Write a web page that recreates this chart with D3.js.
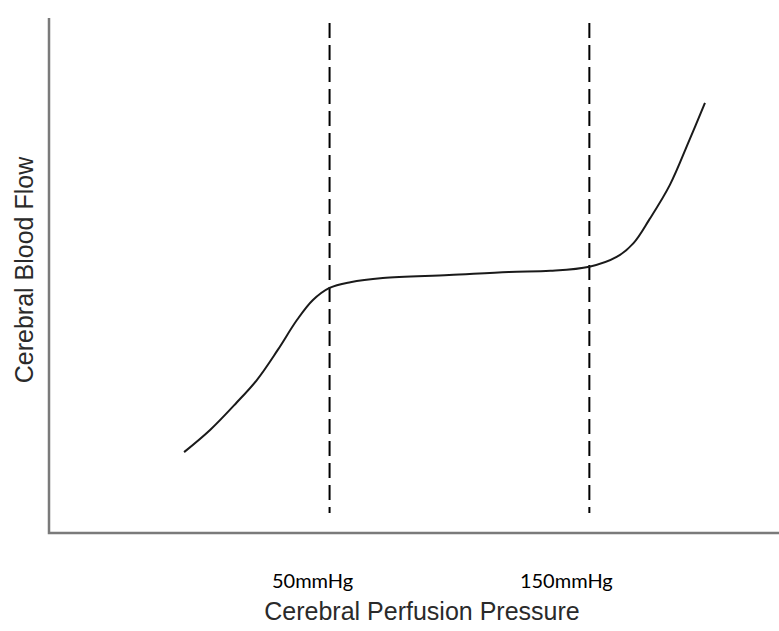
<!DOCTYPE html>
<html>
<head>
<meta charset="utf-8">
<script src="https://cdn.jsdelivr.net/npm/d3@7"></script>
<style>
  body { margin: 0; background: #fff; }
  svg { display: block; }
</style>
</head>
<body>
<svg width="779" height="631"></svg>
<script>
// autoregulation curve
const pressure = [-6, 4, 14, 22, 30, 37.5, 43.5, 50, 58, 70.5, 96, 119, 135, 150, 160.5, 167, 173, 181, 188.5, 194.5];
const flow = [15.7, 20, 25.2, 29.7, 35.5, 41.4, 45.2, 47.6, 48.7, 49.5, 50.1, 50.7, 50.9, 51.7, 53.6, 56.3, 60.8, 67.6, 76.3, 83.5];

// limits of autoregulation
const limits = [50, 150];
const limitLabels = ["50mmHg", "150mmHg"];

const svg = d3.select("svg"),
    plotLeft = 49,
    plotRight = 779,
    plotTop = 18,
    plotBottom = 533;

const x = d3.scaleLinear().domain([-58, 223]).range([plotLeft, plotRight]);
const y = d3.scaleLinear().domain([0, 100]).range([plotBottom, plotTop]);

// axes, plain lines without ticks
svg.append("path")
    .attr("d", `M${plotLeft},${plotTop}V${plotBottom}H${plotRight}`)
    .attr("fill", "none")
    .attr("stroke", "#7a7a7a")
    .attr("stroke-width", 2.5);

// dashed markers
svg.append("g")
    .selectAll("line")
    .data(limits)
    .join("line")
    .attr("x1", d => x(d))
    .attr("x2", d => x(d))
    .attr("y1", 23)
    .attr("y2", 513)
    .attr("stroke", "#000")
    .attr("stroke-width", 2)
    .attr("stroke-dasharray", "15,7");

// the curve
const line = d3.line()
    .x(d => x(d[0]))
    .y(d => y(d[1]))
    .curve(d3.curveCatmullRom);

svg.append("path")
    .datum(pressure.map((p, i) => [p, flow[i]]))
    .attr("d", line)
    .attr("fill", "none")
    .attr("stroke", "#1a1a1a")
    .attr("stroke-width", 2);

// limit labels (sit a bit left of their markers)
svg.append("g")
    .selectAll("text")
    .data(limits)
    .join("text")
    .attr("x", (d, i) => x(d) - (i ? 23 : 17))
    .attr("y", 588)
    .attr("text-anchor", "middle")
    .attr("font-family", "Lato, sans-serif")
    .attr("font-size", 20)
    .attr("fill", "#000")
    .text((d, i) => limitLabels[i]);

// axis titles
svg.append("text")
    .attr("x", 422)
    .attr("y", 620)
    .attr("text-anchor", "middle")
    .attr("font-family", "Liberation Sans, Arial, sans-serif")
    .attr("font-size", 25)
    .attr("fill", "#2a2a2a")
    .text("Cerebral Perfusion Pressure");

svg.append("text")
    .attr("transform", "translate(33,270) rotate(-90)")
    .attr("text-anchor", "middle")
    .attr("font-family", "Liberation Sans, Arial, sans-serif")
    .attr("font-size", 25)
    .attr("fill", "#2a2a2a")
    .text("Cerebral Blood Flow");
</script>
</body>
</html>
